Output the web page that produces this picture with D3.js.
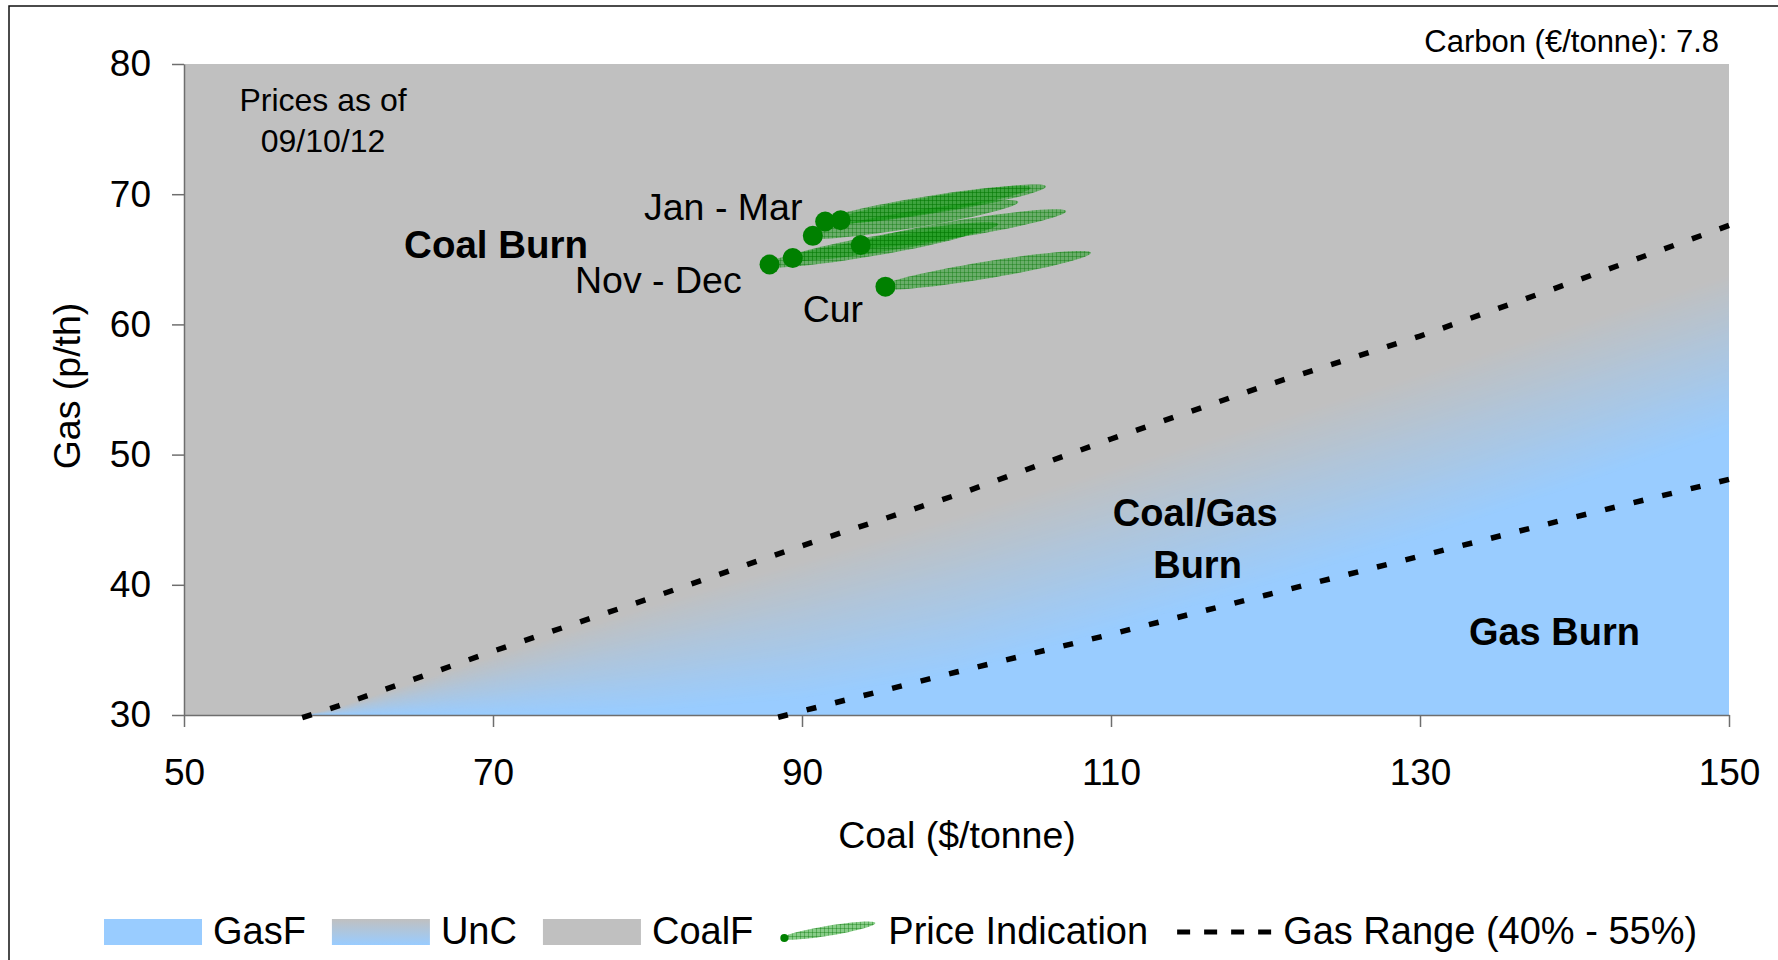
<!DOCTYPE html>
<html>
<head>
<meta charset="utf-8">
<script src="https://cdn.jsdelivr.net/npm/d3@7"></script>
<style>
body { margin: 0; background: #fff; }
svg { display: block; font-family: "Liberation Sans", Arial, sans-serif; }
</style>
</head>
<body>
<div class="canvas"></div>
<script>
// axis ticks
const coalTicks = [50, 70, 90, 110, 130, 150];
const gasTicks = [30, 40, 50, 60, 70, 80];

// switching zones (coal $/t on x, gas p/th on y)
const zoneCoal = [50, 58, 60, 70, 80, 90, 100, 110, 120, 130, 140, 150];
const gasFTop  = [30, 30, 30, 30, 30.3, 31.3, 33.3, 36.6, 40.0, 43.6, 47.6, 51.8];
const uncTop   = [30, 30, 30.6, 34.5, 38.3, 41.8, 45.3, 48.9, 52.5, 56.2, 60.0, 63.8];

// gas range lines (40% and 55% efficiency)
const range40Coal = [56.6, 60, 70, 80, 90, 100, 110, 120, 130, 140, 150];
const range40Gas  = [29.4, 30.7, 34.9, 38.9, 43.0, 46.9, 51.2, 55.3, 59.1, 63.3, 67.6];
const range55Coal = [87.4, 90, 100, 110, 120, 130, 140, 150];
const range55Gas  = [29.5, 30.3, 33.3, 36.2, 39.2, 42.2, 45.2, 48.1];

// price indications: forward point + upper end of indication
const priceCoal     = [87.9, 89.4, 90.7, 91.5, 92.5, 93.8, 95.4];
const priceGas      = [64.6, 65.1, 66.8, 67.9, 68.0, 66.1, 62.9];
const priceCoalHigh = [101.2, 102.7, 104.0, 104.8, 105.8, 107.1, 108.7];
const priceGasHigh  = [67.2, 67.7, 69.4, 70.5, 70.6, 68.7, 65.5];

const legendLabels = ['GasF', 'UnC', 'CoalF', 'Price Indication', 'Gas Range (40% - 55%)'];

const blue = '#99CCFF', grey = '#C0C0C0', green = '#008000';

const W = 1778, H = 960;
const svg = d3.select('.canvas').append('svg')
    .attr('width', W).attr('height', H);

const defs = svg.append('defs');
// unc swatch gradient for legend
const lg = defs.append('linearGradient').attr('id', 'uncGrad')
    .attr('x1', 0).attr('y1', 0).attr('x2', 0).attr('y2', 1);
lg.append('stop').attr('offset', '0%').attr('stop-color', grey);
lg.append('stop').attr('offset', '100%').attr('stop-color', blue);
// hatch for price indication ellipses
const pat = defs.append('pattern').attr('id', 'hatch')
    .attr('patternUnits', 'userSpaceOnUse').attr('width', 4).attr('height', 4);
pat.append('rect').attr('width', 4).attr('height', 4).attr('fill', '#129a12').attr('fill-opacity', 0.5);
pat.append('path').attr('d', 'M0,0.5H4M0.5,0V4')
    .attr('stroke', '#007000').attr('stroke-width', 0.8).attr('stroke-opacity', 0.45);

// outer frame
svg.append('rect').attr('x', 9).attr('y', 6).attr('width', W).attr('height', H)
    .attr('fill', 'none').attr('stroke', '#111').attr('stroke-width', 1.5);

// scales
const x = d3.scaleLinear().domain([50, 150]).range([184, 1729]);
const y = d3.scaleLinear().domain([30, 80]).range([715, 64]);

const idx = d3.range(zoneCoal.length);
const plot = svg.append('g');

// CoalF background
plot.append('path').datum(idx)
    .attr('fill', grey)
    .attr('d', d3.area().x(i => x(zoneCoal[i])).y0(y(30)).y1(y(80)));

// UnC band: stacked slices from blue to grey
const nSteps = 60;
const mix = d3.interpolateRgb(blue, grey);
for (let k = nSteps; k >= 1; k--) {
    const t = k / nSteps;
    plot.append('path').datum(idx)
        .attr('fill', mix((k - 0.5) / nSteps))
        .attr('d', d3.area()
            .x(i => x(zoneCoal[i]))
            .y0(i => y(gasFTop[i]))
            .y1(i => y(gasFTop[i] + (uncTop[i] - gasFTop[i]) * t)));
}

// GasF
plot.append('path').datum(idx)
    .attr('fill', blue)
    .attr('d', d3.area().x(i => x(zoneCoal[i])).y0(y(30)).y1(i => y(gasFTop[i])));

// axes
const xAxis = d3.axisBottom(x).tickValues(coalTicks).tickSize(12).tickSizeOuter(0).tickPadding(32);
const yAxis = d3.axisLeft(y).tickValues(gasTicks).tickSize(12).tickSizeOuter(0).tickPadding(21);
const gx = svg.append('g').attr('transform', `translate(0,${y(30)})`).call(xAxis);
const gy = svg.append('g').attr('transform', `translate(${x(50)},0)`).call(yAxis);
[gx, gy].forEach(g => {
    g.selectAll('path, line').attr('stroke', '#6e6e6e').attr('stroke-width', 1.5);
    g.selectAll('text').attr('fill', '#000').style('font-size', '37px')
        .style('font-family', '"Liberation Sans", Arial, sans-serif');
});

// gas range lines, dash phase set so a dash finishes at the right end
const dash = 10, gap = 19.4;
const lineGen = (cs, gs) => d3.line().x(i => x(cs[i])).y(i => y(gs[i]))(d3.range(cs.length));
[[range40Coal, range40Gas], [range55Coal, range55Gas]].forEach(([cs, gs]) => {
    const p = svg.append('path').attr('d', lineGen(cs, gs))
        .attr('fill', 'none').attr('stroke', '#000').attr('stroke-width', 5.5)
        .attr('stroke-dasharray', `${dash},${gap}`);
    const len = p.node().getTotalLength();
    const period = dash + gap;
    const off = ((dash - len) % period + period) % period;
    p.attr('stroke-dashoffset', off);
});

// ellipse outline from a start point to an end point (pixel space)
function leaf(x0, y0, x1, y1, back, ry) {
    const ang = Math.atan2(y1 - y0, x1 - x0);
    const sx = x0 - back * Math.cos(ang), sy = y0 - back * Math.sin(ang);
    const cx = (sx + x1) / 2, cy = (sy + y1) / 2;
    const rx = Math.hypot(x1 - sx, y1 - sy) / 2;
    const pts = d3.range(72).map(j => {
        const a = j / 72 * 2 * Math.PI;
        const lx = rx * Math.cos(a), ly = ry * Math.sin(a);
        return [cx + lx * Math.cos(ang) - ly * Math.sin(ang), cy + lx * Math.sin(ang) + ly * Math.cos(ang)];
    });
    return d3.line().curve(d3.curveLinearClosed)(pts);
}

// price indications
const pg = svg.append('g');
priceCoal.forEach((c, i) => {
    pg.append('path')
        .attr('d', leaf(x(c), y(priceGas[i]), x(priceCoalHigh[i]), y(priceGasHigh[i]), 8, 8.5))
        .attr('fill', 'url(#hatch)');
});
pg.selectAll('circle').data(priceCoal).join('circle')
    .attr('cx', d => x(d)).attr('cy', (d, i) => y(priceGas[i])).attr('r', 10)
    .attr('fill', green);

// annotations
function note(text, cx, gy, size, weight, anchor) {
    svg.append('text').attr('x', x(cx)).attr('y', y(gy))
        .attr('text-anchor', anchor || 'middle')
        .style('font-size', size + 'px').style('font-weight', weight || 'normal')
        .text(text);
}
note('Prices as of', 59.0, 76.4, 32);
note('09/10/12', 59.0, 73.25, 32);
note('Coal Burn', 70.2, 65.1, 38.5, 'bold');
note('Jan - Mar', 84.9, 68.0, 37.5);
note('Nov - Dec', 80.7, 62.4, 37.5);
note('Cur', 92.0, 60.2, 37.5);
note('Coal/Gas', 115.45, 44.5, 38, 'bold');
note('Burn', 115.6, 40.5, 38, 'bold');
note('Gas Burn', 138.7, 35.4, 38, 'bold');

svg.append('text').attr('x', 1719).attr('y', 52).attr('text-anchor', 'end')
    .style('font-size', '31px').text('Carbon (€/tonne): 7.8');

// axis titles
svg.append('text').attr('x', 957).attr('y', 848).attr('text-anchor', 'middle')
    .style('font-size', '37.5px').text('Coal ($/tonne)');
svg.append('text').attr('transform', 'translate(80,386) rotate(-90)').attr('text-anchor', 'middle')
    .style('font-size', '37.5px').text('Gas (p/th)');

// legend
const leg = svg.append('g');
let lx = 104;
const ly = 919;
legendLabels.forEach((lab, i) => {
    if (i === 0 || i === 1 || i === 2) {
        leg.append('rect').attr('x', lx).attr('y', ly).attr('width', 98).attr('height', 26)
            .attr('fill', i === 0 ? blue : i === 1 ? 'url(#uncGrad)' : grey);
    } else if (i === 3) {
        leg.append('path').attr('d', leaf(lx + 5, ly + 19, lx + 96, ly + 4, 2, 5)).attr('fill', 'url(#hatch)');
        leg.append('circle').attr('cx', lx + 5).attr('cy', ly + 19).attr('r', 4).attr('fill', green);
    } else {
        leg.append('line').attr('x1', lx + 3).attr('x2', lx + 98).attr('y1', ly + 13).attr('y2', ly + 13)
            .attr('stroke', '#000').attr('stroke-width', 5).attr('stroke-dasharray', '13,14');
    }
    const t = leg.append('text').attr('x', lx + 109).attr('y', 944)
        .style('font-size', '38px').text(lab);
    lx += 109 + t.node().getComputedTextLength() + 26;
});
</script>
</body>
</html>
